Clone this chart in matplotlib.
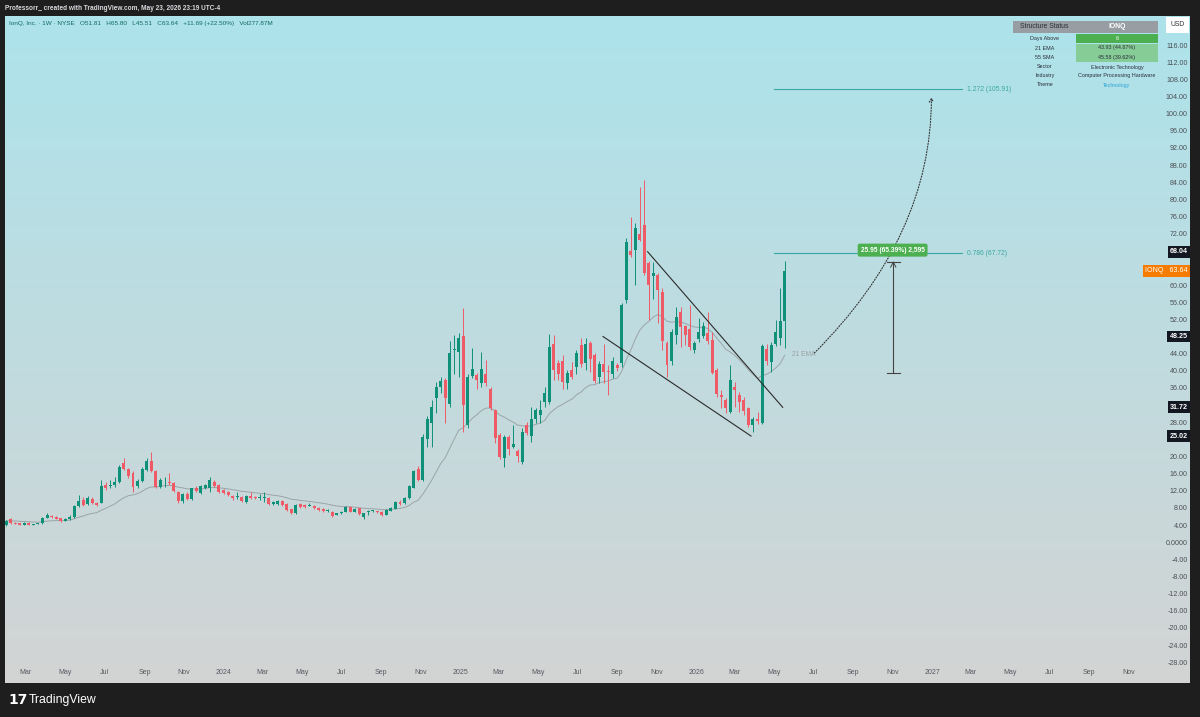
import numpy as np
import pandas as pd
import matplotlib.pyplot as plt
import matplotlib.dates as mdates
import matplotlib.transforms as mtransforms
from matplotlib.patches import Rectangle, FancyArrowPatch
from matplotlib.path import Path

plt.rcParams['font.family'] = ['Liberation Sans', 'DejaVu Sans']

# IONQ weekly candles, first week 2023-01-30, last week 2026-05-18
opens = [
    4.3, 5.6, 4.7, 4.65, 4.35, 4.8, 4.3, 4.5, 4.65, 5.97,
    6.4, 6.2, 5.95, 5.2, 5.6, 6.05, 8.7, 10.1, 9.2, 10.4,
    9.5, 9.5, 13.6, 13.4, 13.5, 14.2, 18.7, 17.3, 16.5, 13.4,
    14.5, 17.1, 19.1, 16.9, 13.1, 14.9, 14.4, 14.1, 12.0, 9.9,
    11.6, 10.3, 12.8, 11.8, 13.0, 13.0, 14.4, 13.6, 12.4, 12.0,
    11.0, 10.9, 10.9, 9.7, 11.0, 10.8, 10.6, 10.5, 10.6, 9.2,
    9.2, 9.9, 9.2, 7.9, 7.0, 9.1, 9.0, 8.8, 8.7, 8.2,
    8.1, 7.6, 7.4, 6.6, 7.0, 7.3, 8.4, 7.4, 8.2, 6.05,
    7.3, 7.5, 7.4, 7.4, 6.6, 7.6, 8.0, 9.7, 9.3, 10.6,
    13.0, 17.3, 14.8, 24.3, 28.0, 33.8, 36.4, 38.1, 32.5, 45.2,
    44.7, 48.4, 27.6, 39.0, 39.3, 37.3, 39.5, 36.0, 31.1, 25.3,
    19.8, 24.9, 22.5, 21.6, 19.0, 27.6, 25.0, 28.9, 29.9, 33.0,
    33.0, 46.6, 42.1, 42.6, 37.3, 40.4, 41.2, 46.2, 42.1, 46.8,
    43.9, 38.7, 41.8, 40.1, 39.5, 41.6, 42.0, 56.8, 68.3, 68.4,
    72.1, 74.3, 65.3, 62.4, 62.6, 58.6, 46.8, 42.6, 48.6, 54.0,
    50.7, 49.9, 45.2, 47.6, 48.4, 49.1, 47.4, 40.4, 34.6, 33.4,
    30.7, 36.5, 34.6, 33.4, 31.5, 27.6, 29.1, 28.1, 45.3, 42.4,
    46.5, 48.0, 51.81,
]
highs = [
    5.5, 5.8, 4.9, 4.8, 4.9, 5.0, 4.6, 4.7, 6.2, 7.0,
    6.6, 6.3, 6.0, 5.9, 6.6, 8.9, 11.3, 10.7, 11.0, 10.8,
    9.7, 14.8, 14.4, 14.8, 15.5, 18.3, 19.8, 17.6, 16.9, 15.0,
    17.8, 20.0, 21.4, 17.2, 15.2, 15.4, 16.3, 14.3, 12.1, 11.8,
    11.9, 13.0, 13.3, 13.6, 13.9, 15.5, 14.7, 13.8, 12.6, 12.2,
    11.3, 12.0, 11.1, 11.2, 12.0, 11.0, 11.6, 12.0, 10.8, 9.9,
    10.1, 10.0, 9.3, 8.0, 9.1, 9.3, 9.2, 9.3, 8.9, 8.4,
    8.3, 7.9, 7.5, 7.1, 7.6, 8.8, 8.6, 8.3, 8.3, 7.1,
    7.8, 7.8, 7.6, 7.5, 8.0, 8.4, 9.9, 10.1, 10.8, 13.6,
    17.2, 18.1, 25.4, 29.6, 33.4, 37.7, 38.9, 38.5, 47.3, 48.6,
    49.0, 54.8, 39.5, 45.5, 39.8, 44.7, 42.8, 36.5, 31.4, 25.8,
    25.3, 25.2, 27.6, 21.9, 26.8, 28.4, 31.9, 31.6, 33.4, 36.4,
    48.8, 48.6, 42.7, 43.9, 40.4, 42.4, 45.1, 47.8, 47.8, 47.3,
    44.3, 42.5, 46.6, 41.6, 43.5, 42.0, 56.0, 71.2, 76.2, 74.7,
    83.2, 84.8, 65.8, 65.7, 63.0, 59.5, 47.2, 50.0, 55.2, 55.2,
    51.0, 55.6, 47.2, 52.5, 51.7, 54.0, 49.4, 40.8, 35.8, 34.0,
    41.6, 37.7, 35.3, 34.2, 31.9, 29.5, 30.7, 46.6, 46.6, 47.0,
    52.1, 59.5, 65.80,
]
lows = [
    4.1, 4.5, 4.4, 4.2, 4.2, 4.2, 4.2, 4.4, 4.6, 5.8,
    5.9, 5.6, 5.0, 5.1, 5.5, 5.9, 8.5, 8.6, 8.9, 9.2,
    8.7, 9.3, 12.4, 12.8, 13.2, 14.0, 17.0, 15.2, 12.0, 13.0,
    14.2, 16.8, 16.6, 12.9, 12.9, 13.2, 13.6, 12.0, 9.5, 9.3,
    10.0, 10.1, 12.0, 11.5, 12.7, 12.0, 13.2, 11.7, 11.6, 11.0,
    10.2, 10.4, 9.7, 9.5, 10.4, 10.3, 10.1, 9.7, 9.0, 9.0,
    9.0, 8.7, 7.6, 6.8, 6.9, 8.3, 8.3, 8.6, 8.0, 7.6,
    7.4, 7.3, 6.1, 6.5, 6.9, 7.2, 7.2, 7.2, 6.6, 5.7,
    6.6, 7.2, 7.1, 6.4, 6.5, 7.5, 7.9, 9.0, 9.1, 10.4,
    12.8, 14.5, 14.5, 22.5, 22.5, 30.3, 35.0, 28.0, 31.8, 39.6,
    38.9, 26.0, 26.8, 38.5, 36.1, 36.5, 36.8, 31.0, 23.3, 19.6,
    17.9, 20.6, 22.3, 19.0, 18.6, 25.3, 23.7, 28.0, 28.0, 31.8,
    32.5, 38.1, 38.1, 36.1, 36.1, 38.4, 39.6, 41.2, 40.4, 40.0,
    37.3, 37.3, 37.3, 34.6, 38.5, 40.3, 41.2, 56.0, 66.9, 60.3,
    70.5, 62.5, 52.1, 57.1, 51.3, 45.1, 38.9, 41.6, 46.6, 45.9,
    46.3, 45.2, 44.3, 47.0, 47.8, 46.6, 39.4, 34.2, 31.5, 30.3,
    30.3, 31.9, 30.7, 29.9, 27.2, 26.0, 27.9, 27.9, 41.6, 40.0,
    46.0, 46.3, 45.51,
]
closes = [
    5.3, 4.65, 4.6, 4.3, 4.8, 4.35, 4.5, 4.6, 5.97, 6.6,
    6.05, 5.75, 5.2, 5.75, 6.2, 8.7, 9.95, 8.9, 10.5, 9.5,
    8.9, 13.4, 12.8, 13.6, 14.4, 17.9, 17.3, 15.6, 13.2, 14.5,
    17.3, 19.3, 16.9, 13.1, 14.8, 15.1, 14.0, 12.3, 9.9, 11.5,
    10.3, 12.8, 12.2, 13.4, 13.6, 14.8, 13.4, 12.0, 11.8, 11.3,
    10.5, 11.0, 9.9, 11.0, 10.6, 10.5, 10.6, 10.7, 9.2, 9.7,
    9.9, 8.9, 7.8, 7.0, 8.9, 8.5, 8.5, 8.8, 8.2, 7.8,
    7.6, 7.6, 6.4, 7.0, 7.4, 8.4, 7.4, 8.1, 6.8, 7.0,
    7.4, 7.5, 7.3, 6.6, 7.8, 8.2, 9.7, 9.2, 10.6, 13.3,
    16.9, 14.8, 24.9, 29.1, 31.7, 36.4, 37.9, 33.8, 44.3, 45.4,
    47.8, 32.3, 38.9, 40.6, 38.1, 40.6, 37.3, 31.5, 24.5, 20.2,
    24.9, 22.1, 23.1, 20.3, 26.0, 25.8, 28.9, 31.0, 31.2, 35.0,
    45.7, 40.4, 39.5, 37.7, 39.8, 38.9, 44.5, 41.8, 46.6, 43.1,
    37.9, 41.8, 40.0, 39.9, 42.6, 40.8, 55.6, 70.4, 67.3, 73.5,
    70.8, 63.0, 60.3, 63.0, 59.1, 47.2, 41.6, 49.4, 52.9, 50.5,
    48.6, 45.9, 46.8, 49.4, 50.7, 47.3, 39.8, 34.8, 34.2, 31.5,
    38.2, 35.8, 32.9, 30.9, 27.6, 29.1, 28.6, 46.0, 42.5, 46.2,
    49.4, 51.95, 63.64,
]
first_week = '2023-01-30'

# drawings on the chart
fib_labels = ['0.786 (67.72)', '1.272 (105.91)']
fib_prices = [67.72, 105.91]
fib_span = ['2026-05-02', '2027-02-16']
upper_line_dates = ['2025-10-18', '2026-05-15']
upper_line_prices = [68.04, 31.72]
lower_line_dates = ['2025-08-10', '2026-03-27']
lower_line_prices = [48.25, 25.02]
marked_prices = [68.04, 48.25, 31.72, 25.02]
last_price = 63.64
measure_date = '2026-11-02'
measure_prices = [39.69, 65.64]
measure_text = '25.95 (65.39%) 2,595'
curve_dates = ['2026-07-03', '2026-12-31', '2026-12-31']
curve_prices = [44.4, 71.7, 104.0]

month_ticks = pd.date_range('2023-03-01', '2027-11-01', freq='2MS')
month_labels = ['Mar', 'May', 'Jul', 'Sep', 'Nov',
                '2024', 'Mar', 'May', 'Jul', 'Sep', 'Nov',
                '2025', 'Mar', 'May', 'Jul', 'Sep', 'Nov',
                '2026', 'Mar', 'May', 'Jul', 'Sep', 'Nov',
                '2027', 'Mar', 'May', 'Jul', 'Sep', 'Nov']
price_ticks = np.arange(-28, 117, 4)

table_rows = [('Days Above', '6'), ('21 EMA', '43.93 (44.87%)'),
              ('55 SMA', '45.58 (39.62%)'), ('Sector', 'Electronic Technology'),
              ('Industry', 'Computer Processing Hardware'), ('Theme', 'Technology')]

UP = '#0f9179'
DOWN = '#ef5a67'
TEAL = '#3aa8a2'
W, H = 1200, 717


def fx(px):
    return px / W


def fy(py):
    return 1 - py / H


fig = plt.figure(figsize=(12, 7.17), dpi=100, facecolor='#1e1e1e')
ax = fig.add_axes([fx(5), fy(683), fx(1185), 667 / H])

# background gradient
top = np.array([173, 227, 235]) / 255
bottom = np.array([211, 212, 212]) / 255
t = np.linspace(0, 1, 256)[:, None, None]
grad = top * (1 - t) + bottom * t
ax.imshow(grad, extent=[0, 1, 0, 1], transform=ax.transAxes, aspect='auto', zorder=0)

weeks = pd.date_range(first_week, periods=len(closes), freq='W-MON')
x = mdates.date2num(weeks)
o = np.array(opens)
c = np.array(closes)
cols = [UP if cc >= oo else DOWN for oo, cc in zip(o, c)]
ax.vlines(x, lows, highs, colors=cols, lw=0.7, zorder=3)
ax.bar(x, np.maximum(np.abs(c - o), 0.15), bottom=np.minimum(o, c), width=4.6,
       color=cols, zorder=4, linewidth=0)

ema = pd.Series(closes).ewm(span=21, adjust=False).mean()
ax.plot(x, ema, color='#9ba4a7', lw=0.7, zorder=2)
ax.text(mdates.datestr2num('2026-05-30'), 44.1, '21 EMA', color='#9aa1a4',
        fontsize=4.8, va='center', ha='left')

# wedge
ax.plot(mdates.datestr2num(upper_line_dates), upper_line_prices, color='#2b2b2b', lw=0.8, zorder=5)
ax.plot(mdates.datestr2num(lower_line_dates), lower_line_prices, color='#2b2b2b', lw=0.8, zorder=5)

# fib levels
fx0, fx1 = mdates.datestr2num(fib_span)
for lab, p in zip(fib_labels, fib_prices):
    ax.plot([fx0, fx1], [p, p], color=TEAL, lw=0.8, zorder=5)
    ax.text(fx1 + 8, p, lab, color=TEAL, fontsize=4.9, va='center', ha='left')

# measure
mx = mdates.datestr2num(measure_date)
ax.plot([mx, mx], measure_prices, color='#444', lw=0.8, zorder=5)
for p in measure_prices:
    ax.plot([mx - 10, mx + 10], [p, p], color='#444', lw=0.8, zorder=5)
ax.plot([mx - 4, mx, mx + 4], [measure_prices[1] - 1.2, measure_prices[1], measure_prices[1] - 1.2],
        color='#444', lw=0.7, zorder=5)
ax.text(mx - 1, 68.4, measure_text, color='white', fontsize=4.8, ha='center', va='center',
        fontweight='bold', zorder=7,
        bbox=dict(boxstyle='round,pad=0.45,rounding_size=0.3', fc='#4caf50', ec='none'))

# projection curve
cx = mdates.datestr2num(curve_dates)
path = Path(list(zip(cx, curve_prices)), [Path.MOVETO, Path.CURVE3, Path.CURVE3])
arrow = FancyArrowPatch(path=path, arrowstyle='->,head_length=2.5,head_width=1.5',
                        color='#333', lw=0.8, linestyle=(0, (1, 1.5)), zorder=6)
ax.add_patch(arrow)

ax.set_xlim(mdates.datestr2num('2023-01-28'), mdates.datestr2num('2028-02-04'))
ax.set_ylim(-32.6, 123.03)
ax.set_axis_off()

# price scale (labels hidden behind the marked price boxes are left out)
ytrans = mtransforms.blended_transform_factory(ax.transAxes, ax.transData)
boxed = marked_prices + [last_price]
for p in price_ticks:
    if min(abs(p - b) for b in boxed) < 2.5:
        continue
    lab = '0.0000' if p == 0 else f'{p:.2f}'
    ax.text(0.9983, p, lab, transform=ytrans, ha='right', va='center',
            fontsize=5.1, color='#4a4f55')
for p in marked_prices:
    ax.text(0.9983, p, f'{p:.2f}', transform=ytrans, ha='right', va='center',
            fontsize=5.1, color='white', fontweight='bold', zorder=8,
            bbox=dict(boxstyle='square,pad=0.35', fc='#131722', ec='none'))
ax.text(0.9983, last_price, f'IONQ   {last_price:.2f}', transform=ytrans, ha='right',
        va='center', fontsize=5.1, color='white', zorder=8,
        bbox=dict(boxstyle='square,pad=0.35', fc='#f57c00', ec='none'))

# time scale
xtrans = mtransforms.blended_transform_factory(ax.transData, ax.transAxes)
for d, lab in zip(month_ticks, month_labels):
    ax.text(mdates.date2num(d), 0.015, lab, transform=xtrans, ha='center', va='center',
            fontsize=5.0, color='#555a60')

# header texts
fig.text(fx(5), fy(8), 'Professorr_ created with TradingView.com, May 23, 2026 23:19 UTC-4',
         color='#d8dadf', fontsize=4.7, fontweight='bold', va='center', ha='left')
fig.text(fx(9), fy(23),
         'IonQ, Inc. \u00b7 1W \u00b7 NYSE   O51.81   H65.80   L45.51   C63.64   +11.69 (+22.50%)   Vol277.87M',
         color='#106b61', fontsize=4.6, va='center', ha='left')

# USD box
fig.add_artist(Rectangle((fx(1166), fy(33)), fx(23), 16 / H, transform=fig.transFigure,
                         fc='white', ec='none'))
fig.text(fx(1177.5), fy(25), 'USD', color='#333', fontsize=4.9, ha='center', va='center')

# structure table
fig.add_artist(Rectangle((fx(1013), fy(33)), fx(145), 12 / H, transform=fig.transFigure,
                         fc='#979da2', ec='none'))
fig.text(fx(1044), fy(27), 'Structure Status', color='#2a2e39', fontsize=4.9, ha='center', va='center')
fig.text(fx(1117), fy(27), 'IONQ', color='white', fontsize=4.9, ha='center', va='center',
         fontweight='bold')
row_y = [38.5, 48, 57.5, 67, 76, 85]
row_bg = ['#4caf50', '#86cc96', '#86cc96', None, None, None]
for (lab, val), yy, bg in zip(table_rows, row_y, row_bg):
    if bg:
        fig.add_artist(Rectangle((fx(1076), fy(yy + 4.5)), fx(82), 9 / H,
                                 transform=fig.transFigure, fc=bg, ec='none'))
    fig.text(fx(1045), fy(yy), lab, color='#2a2e39', fontsize=3.9, ha='center', va='center')
    vcol = '#29a3d6' if lab == 'Theme' else ('white' if lab == 'Days Above' else '#2a2e39')
    fig.text(fx(1117), fy(yy), val, color=vcol, fontsize=3.9, ha='center', va='center')

# footer logo
fig.text(fx(8), fy(700), '17', color='white', fontsize=10, fontweight='bold',
         ha='left', va='center', family='DejaVu Sans')
fig.text(fx(29), fy(700), 'TradingView', color='white', fontsize=8.8,
         ha='left', va='center')

fig.savefig('out.png', dpi=100, facecolor=fig.get_facecolor())
